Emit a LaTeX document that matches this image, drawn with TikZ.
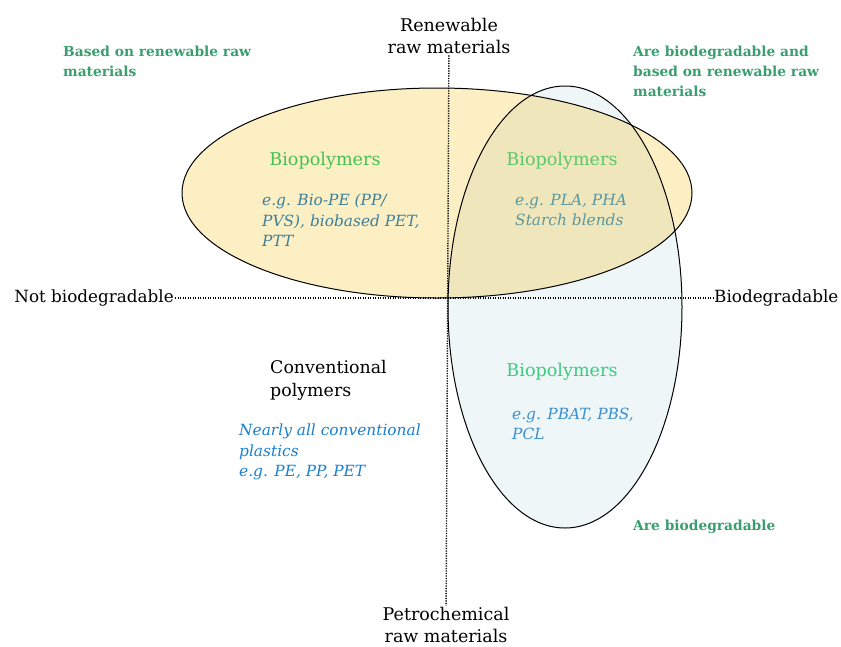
\documentclass[tikz,border=0pt]{standalone}
\usepackage{fontspec}
\setmainfont{DejaVu Serif}
\usetikzlibrary{positioning}

\definecolor{yellowfill}{HTML}{FCEFC4}
\definecolor{bluefill}{HTML}{EEF6F8}
\definecolor{overlapfill}{HTML}{F0E6BB}
\definecolor{notegreen}{HTML}{3A9E6E}
\definecolor{biogreenA}{HTML}{45C152}
\definecolor{biogreenB}{HTML}{5CC86C}
\definecolor{biogreenC}{HTML}{3CCB80}
\definecolor{exteal}{HTML}{3D7F99}
\definecolor{exgrey}{HTML}{5A98A0}
\definecolor{exblue}{HTML}{3A8FD0}
\definecolor{convblue}{HTML}{1A7FD0}

\begin{document}
\begin{tikzpicture}[x=1pt, y=-1pt,
    axislbl/.style={align=center, inner sep=1.5pt, font=\fontsize{17.5}{22}\selectfont},
    sidelbl/.style={inner sep=1pt, font=\fontsize{16.8}{22}\selectfont},
    note/.style={anchor=west, align=left, inner sep=0pt, text=notegreen, font=\bfseries\fontsize{13.8}{20}\selectfont},
    bio/.style={inner sep=0pt, font=\fontsize{17.6}{21}\selectfont},
    ex/.style={anchor=west, align=left, inner sep=0pt, font=\itshape\fontsize{15.4}{20.5}\selectfont},
    axis/.style={line width=1.4pt, dash pattern=on 1.2pt off 1.3pt},
    oval/.style={line width=1pt}]
    \useasboundingbox (0,0) rectangle (841,646);
    % ellipses
    \fill [bluefill] (565,307) ellipse [x radius=117, y radius=221];
    \fill [yellowfill] (437,193) ellipse [x radius=255, y radius=105];
    \begin{scope}
        \clip (437,193) ellipse [x radius=255, y radius=105];
        \fill [overlapfill] (565,307) ellipse [x radius=117, y radius=221];
    \end{scope}
    \draw [oval] (565,307) ellipse [x radius=117, y radius=221];
    \draw [oval] (437,193) ellipse [x radius=255, y radius=105];
    % axes
    \node [axislbl] (ren) at (449,36) {Renewable\\raw materials};
    \node [axislbl] (pet) at (446,625) {Petrochemical\\raw materials};
    \node [sidelbl, anchor=east] (notbio) at (175,298) {Not biodegradable};
    \node [sidelbl, anchor=west] (bio) at (713,298) {Biodegradable};
    \draw [axis] (ren) -- (pet);
    \draw [axis] (notbio) -- (bio);
    % notes
    \node [note] (n1) at (63,61) {Based on renewable raw\\materials};
    \node [note] (n2) at (633,71) {Are biodegradable and\\based on renewable raw\\materials};
    \node [note] (n3) at (633,527) {Are biodegradable};
    % quadrants
    \node [bio, text=biogreenA] (b1) at (325,161) {Biopolymers};
    \node [ex, text=exteal] (e1) at (262,220.5) {e.g. Bio-PE (PP/\\PVS), biobased PET,\\PTT};
    \node [bio, text=biogreenB] (b2) at (562,161) {Biopolymers};
    \node [ex, text=exgrey] (e2) at (515,210) {e.g. PLA, PHA\\Starch blends};
    \node [bio, text=biogreenC] (b3) at (562,372) {Biopolymers};
    \node [ex, text=exblue] (e3) at (512,424) {e.g. PBAT, PBS,\\PCL};
    \node [bio, anchor=west, align=left, font=\fontsize{17.4}{23}\selectfont] (conv) at (270,380) {Conventional\\polymers};
    \node [ex, text=convblue] (e4) at (239,452) {Nearly all conventional\\plastics\\e.g. PE, PP, PET};
\end{tikzpicture}
\end{document}
